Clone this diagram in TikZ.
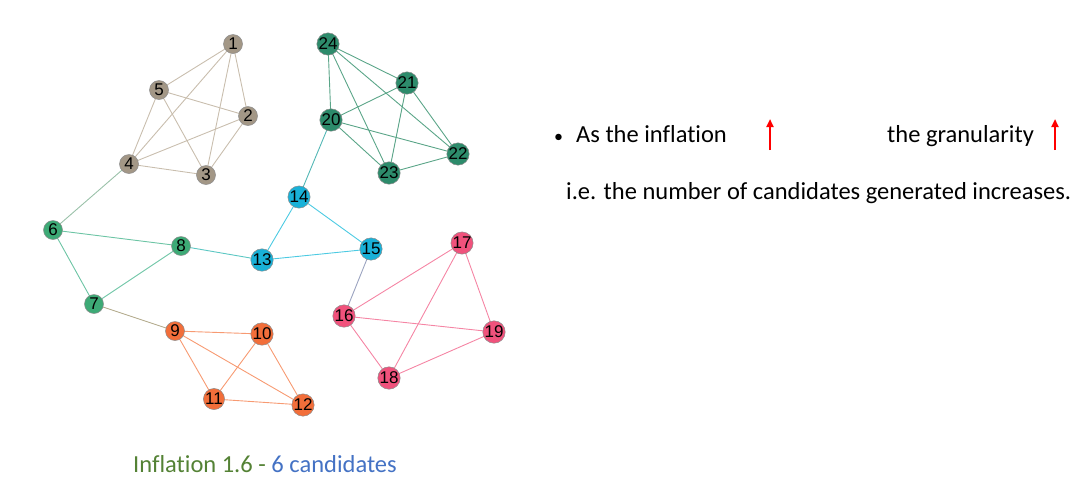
\documentclass[tikz,border=0pt]{standalone}
\usepackage{fontspec}
\setmainfont{Carlito}[Ligatures={NoCommon}]
\newfontfamily\labfont{Liberation Sans}
\usetikzlibrary{arrows.meta}
\definecolor{tanN}{HTML}{A39786}
\definecolor{tanE}{HTML}{C9BEAE}
\definecolor{grnN}{HTML}{3DAA76}
\definecolor{grnE}{HTML}{6CC4A4}
\definecolor{orgN}{HTML}{F26E3A}
\definecolor{orgE}{HTML}{F79A72}
\definecolor{cyaN}{HTML}{19B1D8}
\definecolor{cyaE}{HTML}{4CCAE2}
\definecolor{pnkN}{HTML}{F0527C}
\definecolor{pnkE}{HTML}{F585A4}
\definecolor{dgnN}{HTML}{2D8B6B}
\definecolor{dgnE}{HTML}{5AA588}
\definecolor{olvE}{HTML}{B3AB8C}
\definecolor{gbE}{HTML}{9BA3C0}
\definecolor{capG}{HTML}{548235}
\definecolor{capB}{HTML}{4472C4}
\tikzset{
  vtx/.style={circle, draw=black!45, line width=0.5pt, minimum size=19pt, inner sep=0pt, font=\labfont\fontsize{17}{17}\selectfont, text=black},
  edg/.style={line width=0.9pt},
  redarrow/.style={draw=red, line width=2.2pt, -{Triangle[length=8pt,width=7pt]}},
  txt/.style={font=\fontsize{24.5}{28}\selectfont, anchor=base west, inner sep=0pt}
}
\begin{document}
\begin{tikzpicture}[x=1pt,y=-1pt]
\useasboundingbox (0,0) rectangle (1076,483);
% nodes
\foreach \n/\x/\y in {1/233/44,2/248/116,3/206/175,4/129/164,5/159/90,
  6/53/230,7/94/304,8/181/246,
  9/175/331,10/262/334,11/214/399,12/303/405,
  13/262/260,14/299/197,15/371/249,
  16/344/316,17/462/243,18/389/378,19/494/332,
  20/331/120,21/407/83,22/458/154,23/389/173,24/328/44}
  \coordinate (c\n) at (\x,\y);
% edges
\begin{scope}[edg]
\foreach \a/\b in {1/5,1/4,1/2,1/3,5/2,5/4,5/3,2/4,2/3,4/3}
  \draw[tanE] (c\a) -- (c\b);
\draw[color=tanE!50!grnE] (c4) -- (c6);
\foreach \a/\b in {6/7,7/8,6/8}
  \draw[grnE] (c\a) -- (c\b);
\draw[color=grnE!50!cyaE] (c8) -- (c13);
\draw[olvE] (c7) -- (c9);
\foreach \a/\b in {9/10,9/11,9/12,10/11,10/12,11/12}
  \draw[orgE] (c\a) -- (c\b);
\foreach \a/\b in {13/14,13/15,14/15}
  \draw[cyaE] (c\a) -- (c\b);
\draw[color=cyaE!50!dgnE] (c14) -- (c20);
\draw[gbE] (c15) -- (c16);
\foreach \a/\b in {16/17,16/18,16/19,17/18,17/19,18/19}
  \draw[pnkE] (c\a) -- (c\b);
\foreach \a/\b in {20/24,20/21,20/22,20/23,24/21,24/22,24/23,21/22,21/23,22/23}
  \draw[dgnE] (c\a) -- (c\b);
\end{scope}
\foreach \n/\c in {1/tanN,2/tanN,3/tanN,4/tanN,5/tanN,6/grnN,7/grnN,8/grnN,
  9/orgN,10/orgN,11/orgN,12/orgN,13/cyaN,14/cyaN,15/cyaN,
  16/pnkN,17/pnkN,18/pnkN,19/pnkN,20/dgnN,21/dgnN,22/dgnN,23/dgnN,24/dgnN}
  \node[vtx, fill=\c] (n\n) at (c\n) {\n};
% right text
\node[txt, font=\fontsize{18}{20}\selectfont] (bul) at (554,142) {\textbullet};
\node[txt] (t1) at (576,142) {As the inflation};
\node[txt] (t2) at (887,142) {the granularity};
\node[txt] (t3) at (566,199) {i.e. the number of candidates generated increases.};
\coordinate (a1s) at (770,150);
\coordinate (a1e) at (770,119);
\coordinate (a2s) at (1055,150);
\coordinate (a2e) at (1055,119);
\draw[redarrow] (a1s) -- (a1e);
\draw[redarrow] (a2s) -- (a2e);
% caption
\node[font=\fontsize{24.5}{28}\selectfont, anchor=base, inner sep=0pt] (cap) at (265,472)
  {\textcolor{capG}{Inflation 1.6 -} \textcolor{capB}{6 candidates}};
\end{tikzpicture}
\end{document}
